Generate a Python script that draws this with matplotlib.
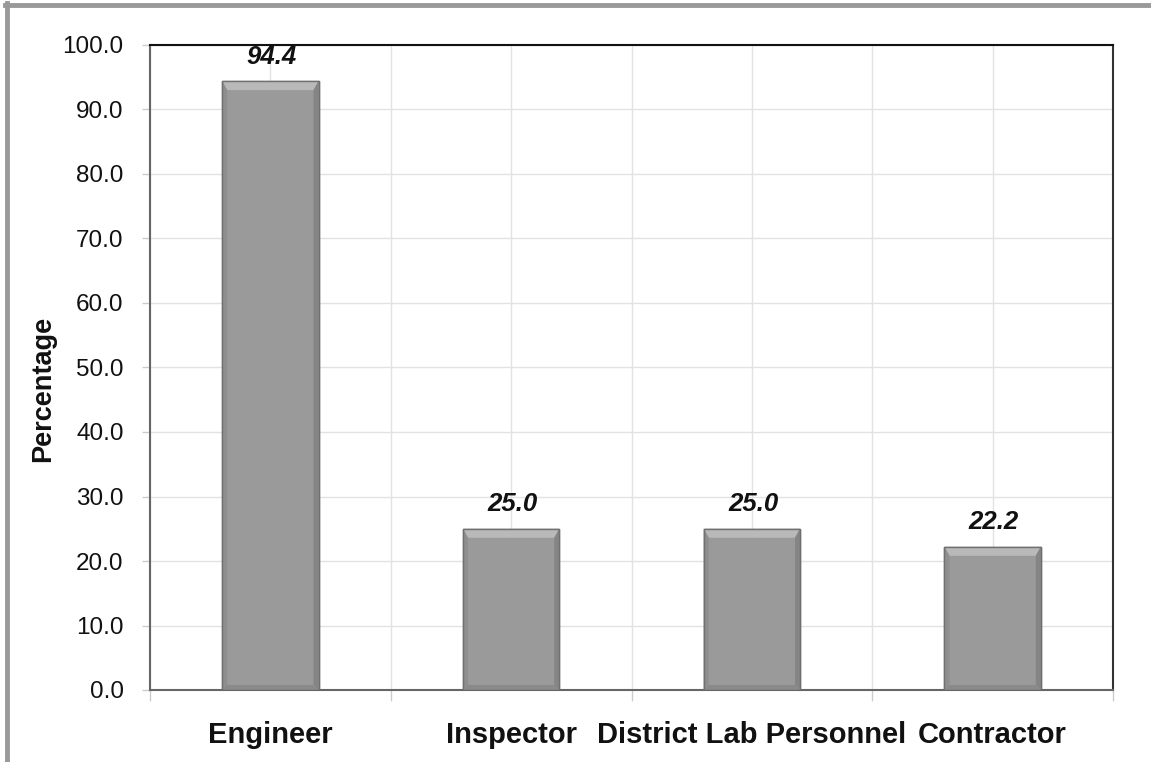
import matplotlib
matplotlib.use("Agg")
import matplotlib.pyplot as plt
from matplotlib.patches import Polygon
from matplotlib.lines import Line2D

categories = ["Engineer", "Inspector", "District Lab Personnel", "Contractor"]
values = [94.4, 25.0, 25.0, 22.2]
value_labels = ["94.4", "25.0", "25.0", "22.2"]
yticks = [0, 10, 20, 30, 40, 50, 60, 70, 80, 90, 100]

plt.rcParams['font.family'] = ['Liberation Sans', 'DejaVu Sans']

W, H = 1151, 762
fig = plt.figure(figsize=(W / 100, H / 100), dpi=100)
ax_left, ax_right, ax_top, ax_bot = 150, 1113, 45, 690
ax = fig.add_axes([ax_left / W, 1 - ax_bot / H, (ax_right - ax_left) / W, (ax_bot - ax_top) / H])

n = len(categories)
x = list(range(n))
bar_w = 0.4
ax.set_xlim(-0.5, n - 0.5)
ax.set_ylim(0, 100)

bars = ax.bar(x, values, width=bar_w, color='#9a9a9a', edgecolor='#6c6c6c',
              linewidth=1.0, zorder=3)

# bevel effect
px_x = (ax_right - ax_left) / n  # pixels per data unit x
px_y = (ax_bot - ax_top) / 100.0
bt = 9 / px_y   # top bevel
bs = 5 / px_x   # side bevel
bb = 5 / px_y   # bottom bevel
for b in bars:
    x0, y0 = b.get_x(), b.get_y()
    w, h = b.get_width(), b.get_height()
    x1, y1 = x0 + w, y0 + h
    top = Polygon([(x0, y1), (x1, y1), (x1 - bs, y1 - bt), (x0 + bs, y1 - bt)],
                  closed=True, facecolor='#b9b9b9', edgecolor='none', zorder=4)
    left = Polygon([(x0, y0), (x0, y1), (x0 + bs, y1 - bt), (x0 + bs, y0 + bb)],
                   closed=True, facecolor='#8e8e8e', edgecolor='none', zorder=4)
    right = Polygon([(x1, y0), (x1, y1), (x1 - bs, y1 - bt), (x1 - bs, y0 + bb)],
                    closed=True, facecolor='#858585', edgecolor='none', zorder=4)
    bottom = Polygon([(x0, y0), (x1, y0), (x1 - bs, y0 + bb), (x0 + bs, y0 + bb)],
                     closed=True, facecolor='#8a8a8a', edgecolor='none', zorder=4)
    for p in (top, left, right, bottom):
        ax.add_patch(p)
    ax.add_patch(Polygon([(x0, y0), (x0, y1), (x1, y1), (x1, y0)], closed=True,
                         facecolor='none', edgecolor='#707070', linewidth=1.0, zorder=5))

for xi, v, lab in zip(x, values, value_labels):
    ax.annotate(lab, (xi, v), xytext=(1, 9), textcoords='offset points',
                ha='center', va='bottom', fontsize=18.5, fontweight='bold',
                fontstyle='italic', color='#111111', zorder=6)

# ticks & grid
ax.set_yticks(yticks)
ax.set_yticklabels([f"{t:.1f}" for t in yticks], fontsize=17.5, color='#111111')
ax.tick_params(axis='y', length=6, width=1, color='#cccccc', pad=13, direction='out')

ax.set_xticks(x)
ax.set_xticklabels(categories, fontsize=21, fontweight='bold', color='#111111')
ax.tick_params(axis='x', which='major', length=0, pad=22)
ax.set_xticks([i - 0.5 for i in range(n + 1)], minor=True)
ax.tick_params(axis='x', which='minor', length=8, width=1, color='#cccccc', direction='out')

ax.grid(True, axis='y', color='#e2e2e2', linewidth=1.0, zorder=0)
ax.grid(True, axis='x', which='both', color='#e2e2e2', linewidth=1.0, zorder=0)
ax.set_axisbelow(True)

for side, col in (('top', '#111111'), ('right', '#333333'), ('left', '#666666'), ('bottom', '#666666')):
    ax.spines[side].set_color(col)
    ax.spines[side].set_linewidth(1.5)

ax.set_ylabel("Percentage", fontsize=19.5, fontweight='bold', color='#111111')
ax.yaxis.set_label_coords(-0.098, 0.467)

# outer gray border (left and top)
fig.add_artist(Line2D([7 / W, 7 / W], [0, 1 - 3 / H], transform=fig.transFigure,
                      color='#999999', linewidth=3.5))
fig.add_artist(Line2D([5 / W, 1], [1 - 5 / H, 1 - 5 / H], transform=fig.transFigure,
                      color='#999999', linewidth=3.5))

fig.savefig("out.png", dpi=100)
